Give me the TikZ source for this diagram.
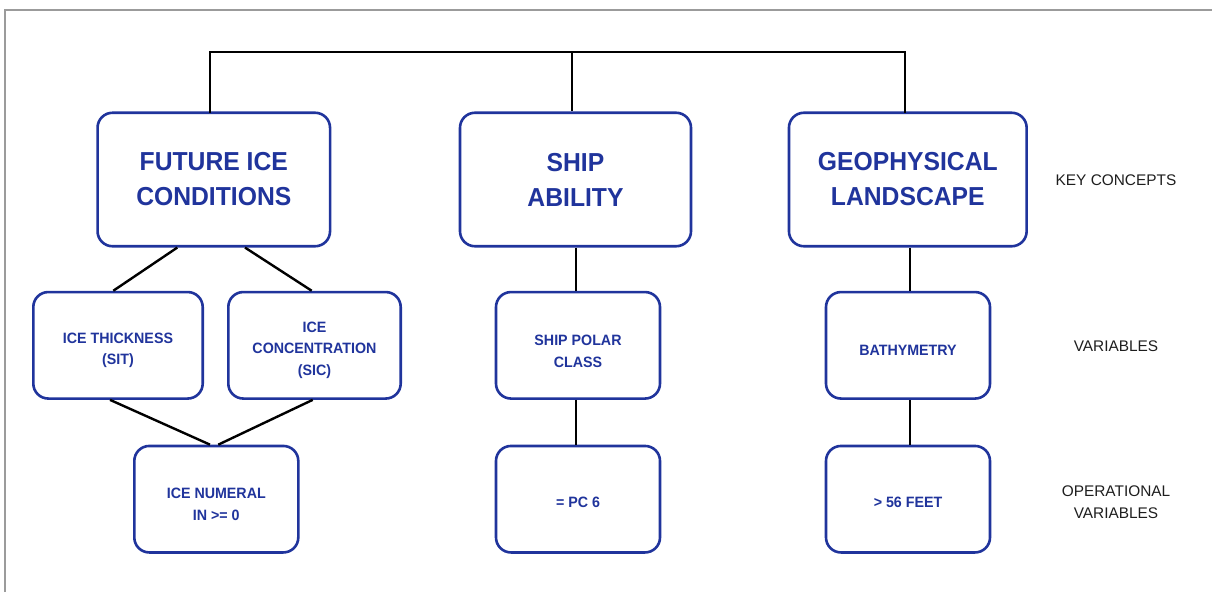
\documentclass[tikz,border=0pt]{standalone}
\usepackage{fontspec}
\setmainfont{Liberation Sans}
\newfontfamily\boxfont[FakeStretch=0.95]{Liberation Sans}
\definecolor{boxblue}{RGB}{32,52,156}
\definecolor{framegray}{RGB}{155,155,155}
\definecolor{labelgray}{RGB}{30,30,30}
\begin{document}
\begin{tikzpicture}[x=1pt,y=-1pt,
  box/.style={draw=boxblue,line width=2.6pt,rounded corners=15pt,fill=white,
    inner sep=0pt,align=center,text=boxblue},
  bigbox/.style={box,font=\boxfont\fontsize{26}{35}\selectfont\bfseries},
  smallbox/.style={box,minimum width=164pt,minimum height=106.5pt},
  smalltext/.style={inner sep=0pt,align=center,text=boxblue,font=\boxfont\fontsize{15}{21.5}\selectfont\bfseries},
  conn/.style={line width=2.4pt,black},
  sidelabel/.style={align=center,text=labelgray,font=\fontsize{15.4}{22}\selectfont}]
\useasboundingbox (0,0) rectangle (1212,592);
\draw[framegray,line width=1.6pt] (5,592) -- (5,10) -- (1212,10);
% key concepts
\node[bigbox,minimum width=232.5pt,minimum height=133.5pt] (b1) at (213.8,179.5) {FUTURE ICE\\CONDITIONS};
\node[bigbox,minimum width=231pt,minimum height=133.5pt] (b2) at (575.5,179.5) {SHIP\\ABILITY};
\node[bigbox,minimum width=237.7pt,minimum height=133.5pt] (b3) at (907.8,179.5) {GEOPHYSICAL\\LANDSCAPE};
% variables
\node[smallbox,minimum width=169.4pt] (vA) at (118,345.3) {};
\node[smallbox,minimum width=172.4pt] (vB) at (314.5,345.3) {};
\node[smallbox] (vC) at (578,345.3) {};
\node[smallbox] (vD) at (908,345.3) {};
\node[smalltext] (vAt) at ([yshift=-5pt]vA.center) {ICE THICKNESS\\(SIT)};
\node[smalltext] (vBt) at ([yshift=-5pt]vB.center) {ICE\\CONCENTRATION\\(SIC)};
\node[smalltext] (vCt) at ([yshift=-6pt]vC.center) {SHIP POLAR\\CLASS};
\node[smalltext] (vDt) at ([yshift=-5pt]vD.center) {BATHYMETRY};
% operational variables
\node[smallbox] (oA) at (216.3,499.2) {};
\node[smallbox] (oC) at (578,499.2) {};
\node[smallbox] (oD) at (908,499.2) {};
\node[smalltext] (oAt) at ([yshift=-5pt]oA.center) {ICE NUMERAL\\IN >= 0};
\node[smalltext] (oCt) at ([yshift=-3pt]oC.center) {= PC 6};
\node[smalltext] (oDt) at ([yshift=-3pt]oD.center) {> 56 FEET};
% side labels
\node[sidelabel] (l1) at (1116,180) {KEY CONCEPTS};
\node[sidelabel] (l2) at (1116,346) {VARIABLES};
\node[sidelabel] (l3) at (1116,502) {OPERATIONAL\\VARIABLES};
% top connector
\coordinate (t1) at (210,52);
\coordinate (t2) at (571.7,52);
\coordinate (t3) at (905,52);
\draw[conn,line cap=rect] (t1 |- b1.north) -- (t1) -- (t3) -- (t3 |- b3.north);
\draw[conn] (t2) -- (t2 |- b2.north);
% left branch
\draw[conn] (177.3,0 |- b1.south) -- (113.3,0 |- vA.north);
\draw[conn] (245,0 |- b1.south) -- (311.7,0 |- vB.north);
\draw[conn] (110,0 |- vA.south) -- (210,0 |- oA.north);
\draw[conn] (312.7,0 |- vB.south) -- (218.3,0 |- oA.north);
% middle and right columns
\coordinate (m) at (575.7,0);
\coordinate (r) at (910,0);
\draw[conn] (m |- b2.south) -- (m |- vC.north);
\draw[conn] (m |- vC.south) -- (m |- oC.north);
\draw[conn] (r |- b3.south) -- (r |- vD.north);
\draw[conn] (r |- vD.south) -- (r |- oD.north);
\end{tikzpicture}
\end{document}
